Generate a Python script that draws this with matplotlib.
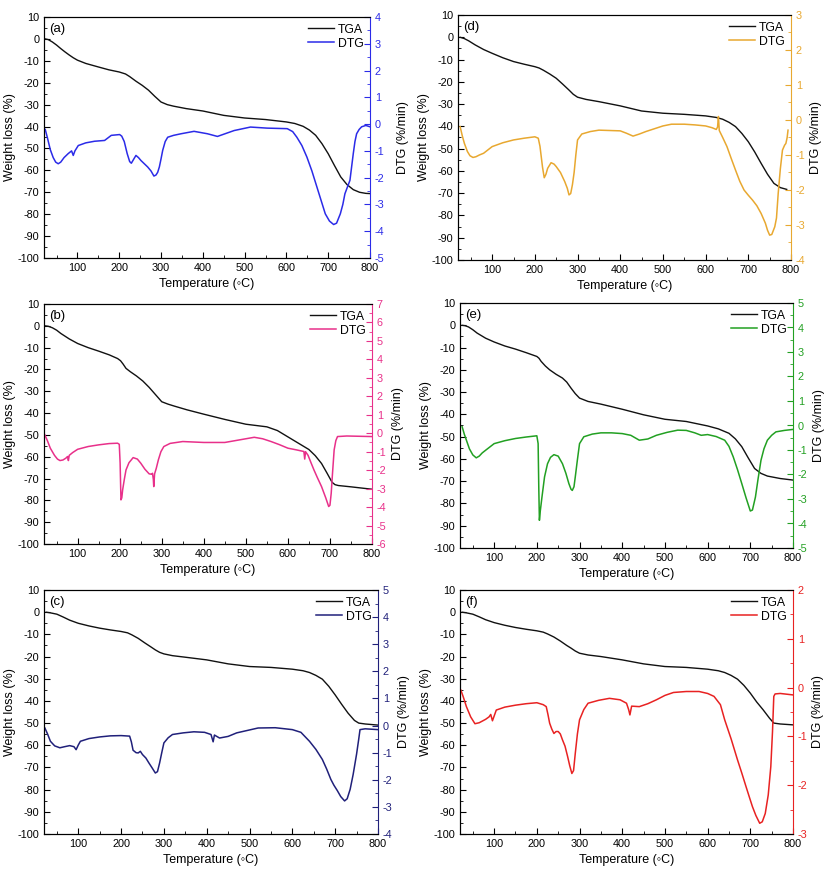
import matplotlib
matplotlib.use('Agg')
import matplotlib.pyplot as plt
from matplotlib.ticker import MultipleLocator

plt.rcParams['font.family'] = ['Liberation Sans', 'DejaVu Sans']
plt.rcParams['axes.unicode_minus'] = False

# ---- data (temperature in °C, TGA in %, DTG in %/min)
panel_names = ['a', 'b', 'c', 'd', 'e', 'f']

# (a)
tga_a_T = [23, 30, 40, 50, 60, 70, 80, 90, 100, 120, 150, 175, 200, 215, 225, 240, 255, 270, 285, 300, 315, 330,
           360, 400, 450, 500, 550, 600, 620, 640, 655, 670, 685, 700, 715, 730, 745, 760, 775, 790, 800]
tga_a_W = [0, -0.3, -1.4, -2.8, -4.4, -5.9, -7.3, -8.6, -9.7, -11.2, -12.8, -14.1, -15.1, -16.0, -17.2, -19.3,
           -21.2, -23.4, -26.2, -28.8, -30.0, -30.7, -31.8, -32.9, -34.9, -36.1, -36.8, -37.9, -38.6, -39.9, -41.6,
           -44.0, -47.8, -52.4, -57.8, -63.0, -66.5, -68.8, -70.0, -70.5, -70.6]
dtg_a_T = [23, 28, 35, 42, 48, 54, 60, 68, 78, 86, 90, 94, 102, 120, 141, 165, 181, 201, 206, 212, 219, 225, 229,
           235, 240, 246, 252, 260, 268, 276, 283, 288, 292, 296, 300, 304, 310, 316, 330, 348, 379, 411, 435, 455,
           475, 514, 554, 602, 615, 625, 637, 649, 661, 673, 683, 693, 703, 713, 720, 729, 735, 740, 746, 752, 756,
           760, 764, 768, 774, 780, 790, 800]
dtg_a_D = [-0.2, -0.5, -0.95, -1.25, -1.42, -1.48, -1.42, -1.25, -1.1, -1.0, -1.17, -1.0, -0.8, -0.7, -0.64, -0.61,
           -0.42, -0.39, -0.45, -0.65, -1.1, -1.4, -1.46, -1.3, -1.17, -1.25, -1.36, -1.48, -1.6, -1.75, -1.94, -1.9,
           -1.8, -1.6, -1.3, -0.98, -0.65, -0.49, -0.42, -0.36, -0.27, -0.36, -0.46, -0.35, -0.24, -0.11, -0.15,
           -0.17, -0.28, -0.49, -0.8, -1.23, -1.75, -2.35, -2.85, -3.35, -3.62, -3.75, -3.7, -3.35, -3.0, -2.6,
           -2.35, -2.1, -1.6, -1.1, -0.65, -0.36, -0.2, -0.1, -0.05, -0.1]

# (b)
tga_b_T = [22, 30, 40, 50, 60, 80, 100, 125, 150, 175, 195, 202, 208, 215, 225, 240, 255, 270, 285, 300, 315, 330,
           360, 400, 450, 500, 550, 575, 600, 625, 650, 665, 680, 693, 705, 712, 720, 750, 800]
tga_b_W = [0, -0.2, -0.9, -2.0, -3.5, -6.0, -8.1, -10.0, -11.6, -13.3, -15.0, -16.0, -17.5, -19.5, -21.0, -23.0,
           -25.3, -28.2, -31.5, -34.8, -35.9, -36.8, -38.5, -40.5, -42.9, -45.1, -46.3, -48.0, -50.9, -53.8, -56.7,
           -59.5, -63.1, -67.5, -71.7, -72.8, -73.2, -73.8, -74.9]
dtg_b_T = [22, 28, 35, 45, 52, 58, 65, 72, 76, 78, 80, 88, 100, 125, 150, 175, 195, 199, 201, 203, 205, 207, 211,
           215, 222, 232, 242, 250, 260, 270, 276, 278, 280, 281, 283, 287, 292, 298, 305, 320, 350, 400, 450, 480,
           520, 540, 560, 580, 600, 620, 638, 640, 642, 648, 655, 662, 670, 680, 690, 697, 700, 703, 706, 710, 714,
           718, 740, 800]
dtg_b_D = [-0.09, -0.4, -0.81, -1.2, -1.4, -1.48, -1.45, -1.35, -1.26, -1.48, -1.2, -1.05, -0.87, -0.72, -0.63,
           -0.56, -0.54, -0.6, -1.6, -3.61, -3.5, -3.07, -2.5, -1.99, -1.6, -1.32, -1.4, -1.62, -1.95, -2.2, -2.22,
           -2.17, -2.5, -2.89, -2.2, -1.9, -1.44, -1.0, -0.72, -0.55, -0.45, -0.5, -0.5, -0.38, -0.22, -0.3, -0.45,
           -0.62, -0.81, -0.9, -0.99, -1.4, -1.0, -1.2, -1.6, -1.99, -2.4, -2.89, -3.5, -3.97, -3.9, -3.25, -2.2,
           -0.9, -0.4, -0.18, -0.15, -0.18]

# (c)
tga_c_T = [25, 35, 50, 65, 80, 100, 125, 150, 175, 200, 215, 225, 240, 255, 270, 280, 290, 300, 320, 350, 400, 450,
           500, 550, 600, 625, 640, 655, 670, 685, 700, 715, 730, 745, 755, 770, 800]
tga_c_W = [0, -0.3, -0.9, -2.2, -3.6, -5.0, -6.2, -7.2, -8.0, -8.7, -9.3, -10.2, -11.8, -13.8, -15.7, -17.0, -18.1,
           -18.8, -19.6, -20.3, -21.5, -23.3, -24.5, -24.9, -25.7, -26.4, -27.2, -28.5, -30.2, -33.4, -37.3, -41.5,
           -45.5, -48.8, -50.0, -50.4, -50.9]
dtg_c_T = [22, 28, 35, 45, 57, 68, 80, 90, 95, 100, 105, 125, 150, 175, 200, 220, 224, 228, 235, 240, 245, 250, 258,
           265, 272, 280, 285, 290, 295, 300, 310, 320, 345, 370, 395, 410, 415, 418, 430, 450, 470, 495, 520, 560,
           600, 620, 640, 655, 670, 680, 690, 697, 705, 713, 722, 728, 735, 742, 750, 755, 758, 770, 800]
dtg_c_D = [-0.09, -0.3, -0.58, -0.75, -0.82, -0.78, -0.74, -0.78, -0.89, -0.72, -0.58, -0.48, -0.42, -0.38, -0.37,
           -0.39, -0.6, -0.91, -1.0, -1.01, -0.95, -1.07, -1.2, -1.38, -1.55, -1.75, -1.7, -1.38, -1.0, -0.64, -0.45,
           -0.33, -0.27, -0.23, -0.25, -0.33, -0.6, -0.35, -0.46, -0.4, -0.27, -0.18, -0.09, -0.08, -0.15, -0.25,
           -0.58, -0.88, -1.25, -1.6, -1.99, -2.2, -2.4, -2.62, -2.78, -2.7, -2.35, -1.8, -1.05, -0.5, -0.15, -0.12,
           -0.15]

# (d)
tga_d_T = [25, 35, 45, 60, 80, 100, 125, 150, 175, 200, 210, 220, 235, 250, 265, 280, 290, 300, 320, 350, 400, 450,
           500, 550, 600, 625, 640, 655, 670, 685, 700, 715, 730, 745, 760, 775, 790]
tga_d_W = [0, -0.6, -1.6, -3.4, -5.5, -7.2, -9.2, -10.9, -12.1, -13.2, -13.8, -14.8, -16.5, -18.4, -21.0, -23.7,
           -25.6, -26.9, -27.9, -28.9, -30.8, -33.1, -34.1, -34.6, -35.3, -36.0, -36.8, -38.2, -40.1, -43.2, -46.9,
           -51.5, -56.6, -61.5, -65.6, -67.5, -68.3]
dtg_d_T = [25, 30, 35, 42, 48, 55, 62, 70, 80, 100, 125, 150, 175, 200, 208, 212, 215, 218, 222, 226, 230, 238, 245,
           250, 260, 270, 276, 280, 284, 288, 292, 296, 300, 310, 330, 350, 375, 400, 415, 430, 445, 460, 480, 500,
           520, 550, 575, 600, 615, 625, 628, 630, 632, 640, 650, 660, 670, 680, 690, 700, 710, 720, 730, 740, 745,
           750, 755, 762, 766, 770, 775, 780, 785, 788, 791, 793]
dtg_d_D = [-0.19, -0.45, -0.67, -0.9, -1.02, -1.07, -1.05, -1.0, -0.95, -0.76, -0.65, -0.57, -0.52, -0.48, -0.52,
           -0.75, -1.05, -1.35, -1.65, -1.55, -1.38, -1.22, -1.26, -1.33, -1.5, -1.76, -1.95, -2.14, -2.1, -1.85,
           -1.5, -1.0, -0.57, -0.4, -0.33, -0.29, -0.3, -0.31, -0.38, -0.46, -0.4, -0.33, -0.25, -0.17, -0.12,
           -0.12, -0.14, -0.17, -0.22, -0.27, -0.2, 0.1, -0.3, -0.5, -0.76, -1.1, -1.43, -1.75, -2.0, -2.15, -2.29,
           -2.45, -2.67, -2.95, -3.15, -3.29, -3.27, -3.05, -2.8, -2.1, -1.4, -0.86, -0.72, -0.67, -0.5, -0.29]

# (e)
tga_e_T = [25, 32, 40, 50, 60, 80, 100, 125, 150, 175, 200, 205, 210, 220, 230, 245, 260, 270, 280, 290, 300, 320,
           350, 400, 450, 500, 550, 600, 625, 650, 665, 680, 695, 710, 725, 740, 770, 800]
tga_e_W = [0, -0.2, -0.75, -2.0, -3.5, -5.8, -7.5, -9.3, -10.7, -12.3, -14.0, -14.8, -16.2, -18.3, -20.0, -22.0,
           -23.7, -25.5, -28.2, -30.7, -32.7, -34.2, -35.4, -37.7, -40.2, -42.2, -43.2, -45.2, -46.5, -48.5, -51.0,
           -54.5, -59.5, -64.3, -66.5, -67.7, -68.8, -69.5]
dtg_e_T = [25, 30, 35, 42, 50, 58, 65, 72, 80, 100, 125, 150, 175, 200, 203, 204.5, 206, 208, 212, 218, 225, 232,
           240, 250, 260, 268, 275, 280, 283, 287, 290, 295, 300, 310, 330, 350, 375, 400, 420, 440, 460, 480, 505,
           530, 550, 570, 585, 600, 620, 640, 650, 660, 670, 680, 690, 700, 705, 712, 718, 725, 732, 740, 750, 760,
           780, 800]
dtg_e_D = [-0.05, -0.35, -0.6, -0.95, -1.2, -1.32, -1.25, -1.12, -1.01, -0.74, -0.62, -0.53, -0.47, -0.42, -0.74,
           -2.5, -3.87, -3.5, -2.92, -2.1, -1.56, -1.3, -1.19, -1.25, -1.56, -1.95, -2.37, -2.6, -2.65, -2.5, -2.1,
           -1.4, -0.74, -0.46, -0.35, -0.3, -0.3, -0.33, -0.4, -0.6, -0.55, -0.4, -0.28, -0.19, -0.2, -0.3, -0.4,
           -0.37, -0.45, -0.6, -0.85, -1.28, -1.8, -2.37, -2.95, -3.49, -3.45, -2.92, -2.2, -1.42, -0.95, -0.6,
           -0.4, -0.26, -0.2, -0.16]

# (f)
tga_f_T = [25, 35, 50, 65, 80, 100, 125, 150, 175, 200, 215, 225, 240, 255, 270, 280, 290, 300, 320, 350, 400, 450,
           500, 550, 600, 625, 640, 655, 670, 685, 700, 715, 730, 745, 755, 770, 800]
tga_f_W = [0, -0.3, -0.9, -2.1, -3.4, -4.7, -5.9, -6.9, -7.7, -8.4, -9.0, -9.8, -11.2, -13.0, -15.0, -16.2, -17.5,
           -18.5, -19.3, -20.0, -21.5, -23.3, -24.5, -24.9, -25.7, -26.4, -27.2, -28.5, -30.2, -33.0, -36.5, -40.5,
           -44.0, -47.8, -50.0, -50.4, -50.8]
dtg_f_T = [22, 28, 35, 45, 55, 65, 80, 88, 92, 96, 105, 125, 150, 175, 200, 215, 222, 226, 230, 235, 240, 245, 250,
           255, 260, 266, 272, 277, 282, 286, 290, 295, 300, 310, 320, 345, 370, 395, 410, 415, 418, 422, 440, 460,
           480, 500, 520, 550, 580, 600, 615, 630, 640, 655, 670, 680, 690, 698, 705, 713, 722, 728, 735, 742, 748,
           752, 755, 758, 770, 800]
dtg_f_D = [-0.05, -0.2, -0.39, -0.6, -0.74, -0.72, -0.65, -0.6, -0.55, -0.68, -0.46, -0.4, -0.36, -0.33, -0.31,
           -0.35, -0.39, -0.55, -0.73, -0.85, -0.94, -0.9, -0.9, -0.95, -1.07, -1.2, -1.41, -1.6, -1.76, -1.7,
           -1.35, -0.95, -0.66, -0.45, -0.32, -0.26, -0.22, -0.25, -0.32, -0.45, -0.56, -0.38, -0.39, -0.33, -0.25,
           -0.16, -0.1, -0.08, -0.08, -0.12, -0.18, -0.35, -0.66, -1.05, -1.48, -1.75, -2.03, -2.25, -2.44, -2.62,
           -2.78, -2.75, -2.58, -2.2, -1.62, -0.9, -0.18, -0.13, -0.12, -0.15]

dtg_limits = {'a': (-5, 4), 'b': (-6, 7), 'c': (-4, 5), 'd': (-4, 3), 'e': (-5, 5), 'f': (-3, 2)}
dtg_colors = {'a': '#2b2be8', 'b': '#e8308a', 'c': '#20207a', 'd': '#e8a830', 'e': '#22a022', 'f': '#e82222'}

# axes boxes in pixels: left, top, right, bottom
W, H = 829, 871
boxes = {'a': (44, 17, 370, 258), 'b': (44, 304, 372, 544), 'c': (44, 590, 378, 834),
         'd': (458, 15, 791, 260), 'e': (460, 303, 793, 548), 'f': (460, 590, 793, 834)}
right_pad = {'a': 9, 'b': 4, 'c': 4, 'd': 3, 'e': 4, 'f': 3}

data = {
    'a': (tga_a_T, tga_a_W, dtg_a_T, dtg_a_D),
    'b': (tga_b_T, tga_b_W, dtg_b_T, dtg_b_D),
    'c': (tga_c_T, tga_c_W, dtg_c_T, dtg_c_D),
    'd': (tga_d_T, tga_d_W, dtg_d_T, dtg_d_D),
    'e': (tga_e_T, tga_e_W, dtg_e_T, dtg_e_D),
    'f': (tga_f_T, tga_f_W, dtg_f_T, dtg_f_D),
}

fig = plt.figure(figsize=(W / 100, H / 100), dpi=100)

for name in panel_names:
    l, t, r, b = boxes[name]
    ax = fig.add_axes([l / W, 1 - b / H, (r - l) / W, (b - t) / H])
    ax2 = ax.twinx()
    col = dtg_colors[name]
    tT, tW, dT, dD = data[name]

    h1, = ax.plot(tT, tW, color='#111111', lw=1.0, label='TGA')
    h2, = ax2.plot(dT, dD, color=col, lw=1.1, label='DTG')

    ax.set_xlim(20, 800)
    ax.set_ylim(-100, 10)
    ax2.set_ylim(*dtg_limits[name])

    ax.xaxis.set_major_locator(MultipleLocator(100))
    ax.xaxis.set_minor_locator(MultipleLocator(50))
    ax.yaxis.set_major_locator(MultipleLocator(10))
    ax.yaxis.set_minor_locator(MultipleLocator(5))
    ax2.yaxis.set_major_locator(MultipleLocator(1))
    ax2.yaxis.set_minor_locator(MultipleLocator(0.5))

    ax.tick_params(which='both', direction='in', labelsize=7.8, top=False)
    ax.tick_params(which='major', length=4)
    ax.tick_params(which='minor', length=2)
    ax2.tick_params(which='both', direction='in', labelsize=7.8, colors=col)
    ax2.tick_params(which='major', length=4)
    ax2.tick_params(which='minor', length=2)
    ax2.spines['right'].set_color(col)
    ax.spines['right'].set_visible(False)

    ax.set_xlabel('Temperature (\u25e6C)', fontsize=9, labelpad=3.5)
    ax.set_ylabel('Weight loss (%)', fontsize=9, labelpad=1)
    ax2.set_ylabel('DTG (%/min)', fontsize=9, color='black', labelpad=right_pad[name])

    ax.text(0.015, 0.975, f'({name})', transform=ax.transAxes, ha='left', va='top', fontsize=9.5)
    ax.legend(handles=[h1, h2], loc='upper right', frameon=False, fontsize=8.8,
              handlelength=2.1, handletextpad=0.3, borderaxespad=0.15, labelspacing=0.15)

fig.savefig('out.png', dpi=100)
